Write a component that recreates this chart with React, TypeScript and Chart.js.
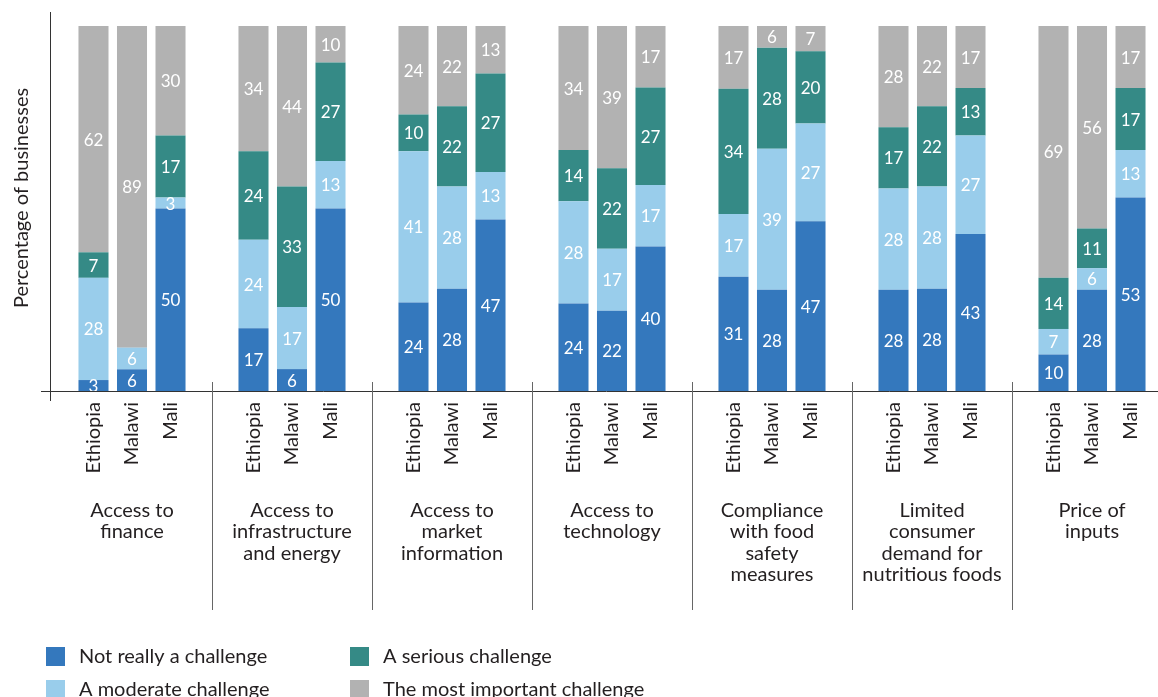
import React, { useEffect, useRef } from "react";
import { Chart, registerables } from "chart.js";

Chart.register(...registerables);

const groupLabels: string[][] = [
  ["Access to", "finance"],
  ["Access to", "infrastructure", "and energy"],
  ["Access to", "market", "information"],
  ["Access to", "technology"],
  ["Compliance", "with food", "safety", "measures"],
  ["Limited", "consumer", "demand for", "nutritious foods"],
  ["Price of", "inputs"],
];
const countries = ["Ethiopia", "Malawi", "Mali"];
const seriesNames = [
  "Not really a challenge",
  "A moderate challenge",
  "A serious challenge",
  "The most important challenge",
];
const seriesColors = ["#3478BD", "#99CDEB", "#358A86", "#B2B2B2"];

// values per group, per country
const notReallyEthiopia = [3, 17, 24, 24, 31, 28, 10];
const notReallyMalawi = [6, 6, 28, 22, 28, 28, 28];
const notReallyMali = [50, 50, 47, 40, 47, 43, 53];

const moderateEthiopia = [28, 24, 41, 28, 17, 28, 7];
const moderateMalawi = [6, 17, 28, 17, 39, 28, 6];
const moderateMali = [3, 13, 13, 17, 27, 27, 13];

const seriousEthiopia = [7, 24, 10, 14, 34, 17, 14];
const seriousMalawi = [0, 33, 22, 22, 28, 22, 11];
const seriousMali = [17, 27, 27, 27, 20, 13, 17];

const mostEthiopia = [62, 34, 24, 34, 17, 28, 69];
const mostMalawi = [89, 44, 22, 39, 6, 22, 56];
const mostMali = [30, 10, 13, 17, 7, 17, 17];

const valuesByCountry: number[][][] = [
  [notReallyEthiopia, moderateEthiopia, seriousEthiopia, mostEthiopia],
  [notReallyMalawi, moderateMalawi, seriousMalawi, mostMalawi],
  [notReallyMali, moderateMali, seriousMali, mostMali],
];

const FONT = "Lato, 'Noto Sans', sans-serif";
const TEXT = "#231F20";

const decorPlugin = {
  id: "decor",
  afterDatasetsDraw(chart: any) {
    const ctx = chart.ctx;
    ctx.save();
    ctx.fillStyle = "#ffffff";
    ctx.font = `17px ${FONT}`;
    ctx.textAlign = "center";
    ctx.textBaseline = "middle";
    chart.data.datasets.forEach((ds: any, di: number) => {
      const meta = chart.getDatasetMeta(di);
      meta.data.forEach((el: any, i: number) => {
        const v = ds.raw[i];
        if (!v) return;
        const top = Math.max(el.y, chart.chartArea.top);
        ctx.fillText(String(v), el.x, (top + el.base) / 2 + 1);
      });
    });
    ctx.restore();
  },
  afterDraw(chart: any) {
    const ctx = chart.ctx;
    const area = chart.chartArea;
    const xs = chart.scales.x;
    ctx.save();
    // axes
    ctx.strokeStyle = "#333333";
    ctx.lineWidth = 1;
    ctx.beginPath();
    ctx.moveTo(area.left - 1.5, 12);
    ctx.lineTo(area.left - 1.5, area.bottom + 10);
    ctx.moveTo(41, area.bottom + 0.5);
    ctx.lineTo(chart.width, area.bottom + 0.5);
    ctx.stroke();
    // separators
    ctx.strokeStyle = "#666666";
    ctx.beginPath();
    for (let i = 0; i < groupLabels.length - 1; i++) {
      const x = Math.round((xs.getPixelForValue(i) + xs.getPixelForValue(i + 1)) / 2) + 0.5;
      ctx.moveTo(x, area.bottom - 9);
      ctx.lineTo(x, area.bottom + 219);
    }
    ctx.stroke();
    // country labels
    ctx.fillStyle = TEXT;
    ctx.font = `20px ${FONT}`;
    for (let c = 0; c < countries.length; c++) {
      const meta = chart.getDatasetMeta(c * 4);
      meta.data.forEach((el: any) => {
        ctx.save();
        ctx.translate(el.x, area.bottom + 11);
        ctx.rotate(-Math.PI / 2);
        ctx.textAlign = "right";
        ctx.textBaseline = "middle";
        ctx.fillText(countries[c], 0, 0);
        ctx.restore();
      });
    }
    // group labels
    ctx.textAlign = "center";
    ctx.textBaseline = "alphabetic";
    groupLabels.forEach((lines, i) => {
      const x = xs.getPixelForValue(i);
      lines.forEach((line, li) => {
        ctx.fillText(line, x, area.bottom + 126 + li * 21.4);
      });
    });
    // y title
    ctx.save();
    ctx.translate(22, 198);
    ctx.rotate(-Math.PI / 2);
    ctx.textAlign = "center";
    ctx.textBaseline = "middle";
    ctx.fillText("Percentage of businesses", 0, 0);
    ctx.restore();
    // legend
    const pos = [
      [46, 647],
      [46, 680],
      [350, 647],
      [350, 680],
    ];
    seriesNames.forEach((name, s) => {
      const [lx, ly] = pos[s];
      ctx.fillStyle = seriesColors[s];
      ctx.fillRect(lx, ly, 19, 19);
      ctx.fillStyle = TEXT;
      ctx.textAlign = "left";
      ctx.textBaseline = "middle";
      ctx.fillText(name, lx + 33, ly + 9.5);
    });
    ctx.restore();
  },
};

export default function App() {
  const ref = useRef<HTMLCanvasElement>(null);
  useEffect(() => {
    if (!ref.current) return;
    const datasets: any[] = [];
    countries.forEach((country, c) => {
      const totals = groupLabels.map((_, g) =>
        valuesByCountry[c].reduce((a, arr) => a + arr[g], 0)
      );
      seriesNames.forEach((name, s) => {
        const raw = valuesByCountry[c][s];
        datasets.push({
          label: name,
          stack: country,
          raw,
          // 100% stacked: share of each bar's total
          data: raw.map((v, g) => (v / totals[g]) * 100),
          backgroundColor: seriesColors[s],
          borderWidth: 0,
          categoryPercentage: 0.722,
          barPercentage: 0.78,
        });
      });
    });
    const chart = new Chart(ref.current, {
      type: "bar",
      data: { labels: groupLabels.map((l) => l.join(" ")), datasets },
      options: {
        responsive: false,
        maintainAspectRatio: false,
        animation: false,
        layout: { padding: { left: 52, right: 0, top: 26, bottom: 306 } },
        plugins: { legend: { display: false }, tooltip: { enabled: false } },
        scales: {
          x: { display: false, stacked: true },
          y: { display: false, stacked: true, min: 0, max: 100 },
        },
      },
      plugins: [decorPlugin],
    });
    return () => chart.destroy();
  }, []);
  return (
    <div
      style={{
        position: "fixed",
        left: 0,
        top: 0,
        width: 1158,
        height: 697,
        overflow: "hidden",
        background: "#ffffff",
      }}
    >
      <canvas ref={ref} width={1172} height={697} style={{ width: 1172, height: 697, display: "block" }} />
    </div>
  );
}
